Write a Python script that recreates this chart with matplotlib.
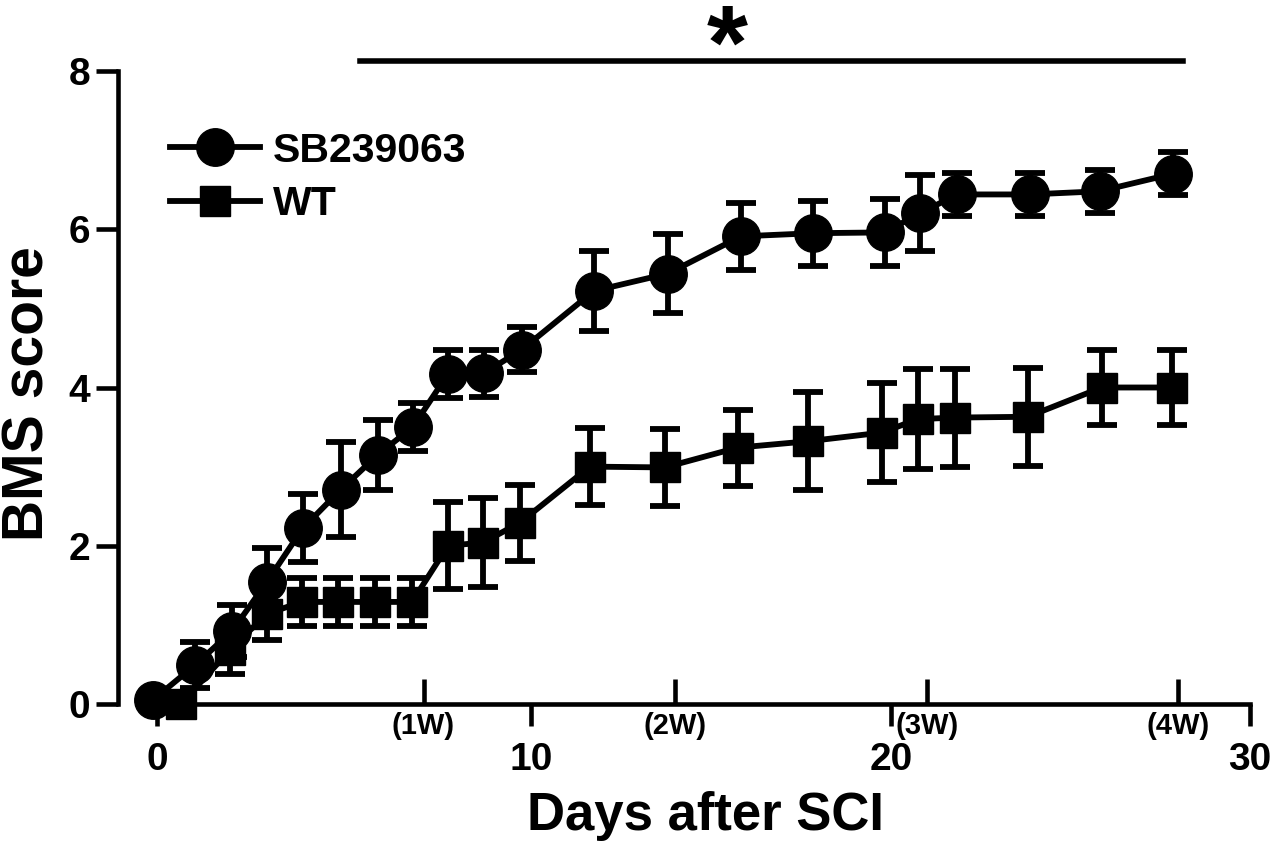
import matplotlib
matplotlib.use("Agg")
import matplotlib.pyplot as plt

plt.rcParams['font.family'] = ['Liberation Sans', 'DejaVu Sans']
plt.rcParams['font.weight'] = 'bold'

# days after SCI (as placed on the graph), mean BMS score, SEM
sb_days = [-0.53, 0.64, 1.67, 2.64, 3.64, 4.70, 5.73, 6.70, 7.68, 8.68, 9.74,
           11.74, 13.80, 15.83, 17.83, 19.83, 20.81, 21.84, 23.87, 25.81, 27.84]
sb_mean = [0.05, 0.49, 0.92, 1.54, 2.22, 2.71, 3.15, 3.50, 4.17, 4.18, 4.48,
           5.22, 5.44, 5.91, 5.95, 5.96, 6.20, 6.44, 6.44, 6.48, 6.70]
sb_err = [0.0, 0.29, 0.33, 0.43, 0.43, 0.60, 0.44, 0.30, 0.30, 0.30, 0.29,
          0.51, 0.50, 0.42, 0.41, 0.42, 0.48, 0.27, 0.27, 0.27, 0.27]

wt_days = [0.25, 1.61, 2.64, 3.62, 4.62, 5.65, 6.68, 7.68, 8.65, 9.68,
           11.63, 13.71, 15.74, 17.69, 19.75, 20.75, 21.78, 23.81, 25.87, 27.82]
wt_mean = [0.0, 0.68, 1.14, 1.29, 1.29, 1.29, 1.29, 2.00, 2.04, 2.29,
           3.00, 2.99, 3.24, 3.32, 3.43, 3.60, 3.62, 3.63, 4.00, 4.00]
wt_err = [0.0, 0.30, 0.33, 0.30, 0.30, 0.30, 0.30, 0.55, 0.56, 0.48,
          0.49, 0.49, 0.48, 0.62, 0.63, 0.63, 0.62, 0.62, 0.47, 0.47]

day_ticks = [-0.42, 10, 20, 30]
day_labels = ['0', '10', '20', '30']
week_ticks = [7, 14, 21, 28]
week_labels = ['(1W)', '(2W)', '(3W)', '(4W)']
y_ticks = [0, 2, 4, 6, 8]

sig_start, sig_end, sig_y = 5.23, 28.12, 8.13
star_x = 15.44

fig = plt.figure(figsize=(12.74, 8.51), dpi=100)
ax = fig.add_axes([118 / 1274, 147 / 851, 1134 / 1274, 633 / 851])

lw = 4.2
ax.errorbar(sb_days, sb_mean, yerr=sb_err, fmt='none', ecolor='black',
            elinewidth=lw, capsize=11, capthick=lw, clip_on=False, zorder=3)
ax.errorbar(wt_days, wt_mean, yerr=wt_err, fmt='none', ecolor='black',
            elinewidth=lw, capsize=11, capthick=lw, clip_on=False, zorder=3)
h_wt, = ax.plot(wt_days, wt_mean, color='black', lw=lw, marker='s',
                markersize=22, clip_on=False, zorder=4, label='WT')
h_sb, = ax.plot(sb_days, sb_mean, color='black', lw=lw, marker='o',
                markersize=27, clip_on=False, zorder=5, label='SB239063')

ax.set_xlim(-1.5, 30.05)
ax.set_ylim(0, 8)

for s in ['top', 'right']:
    ax.spines[s].set_visible(False)
ax.spines['left'].set_linewidth(3.3)
ax.spines['bottom'].set_linewidth(3.3)
ax.spines['left'].set_bounds(0, 8)
ax.spines['bottom'].set_bounds(-0.6, 30)

ax.set_yticks(y_ticks)
ax.set_xticks(day_ticks)
ax.set_xticklabels(day_labels)
ax.set_xticks(week_ticks, minor=True)
ax.set_xticklabels(week_labels, minor=True)

ax.tick_params(axis='y', direction='out', length=16, width=3.3, pad=4,
               labelsize=28)
ax.tick_params(axis='x', which='major', direction='out', length=16, width=3.3,
               pad=11, labelsize=28)
ax.tick_params(axis='x', which='minor', direction='in', length=18, width=3.3,
               pad=6, labelsize=21)
for t in ax.get_xticklabels() + ax.get_yticklabels() + ax.get_xticklabels(minor=True):
    t.set_fontweight('bold')

ax.set_xlabel('Days after SCI', fontsize=38, fontweight='bold')
ax.set_ylabel('BMS score', fontsize=41, fontweight='bold')
ax.xaxis.set_label_coords(0.518, -0.138)
ax.yaxis.set_label_coords(-0.055, 0.49)

# significance bar
ax.plot([sig_start, sig_end], [sig_y, sig_y], color='black', lw=4,
        clip_on=False)
ax.text(star_x, 7.91, '*', ha='center', va='baseline', fontsize=76,
        fontweight='bold')

ax.legend(handles=[h_sb, h_wt], loc='center left',
          bbox_to_anchor=(0.0459, 0.832), frameon=False,
          handlelength=2.2, handletextpad=0.3, labelspacing=0.38,
          borderpad=0, borderaxespad=0, prop={'weight': 'bold', 'size': 29.5})

fig.savefig('out.png', dpi=100)
